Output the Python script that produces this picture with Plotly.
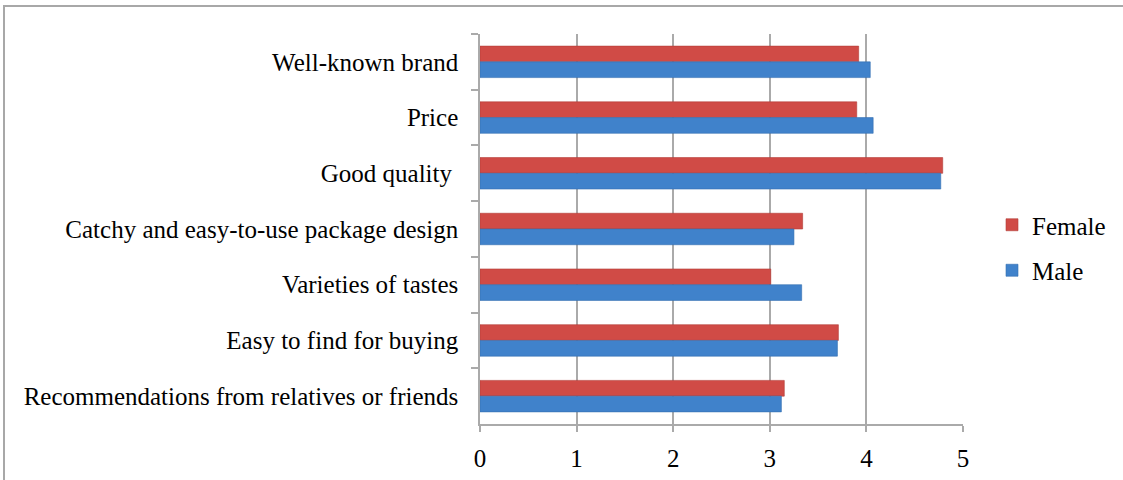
import plotly.graph_objects as go

categories = [
    "Well-known brand",
    "Price",
    "Good quality ",
    "Catchy and easy-to-use package design",
    "Varieties of tastes",
    "Easy to find for buying",
    "Recommendations from relatives or friends",
]
female = [3.92, 3.90, 4.79, 3.34, 3.01, 3.71, 3.15]
male = [4.04, 4.07, 4.77, 3.25, 3.33, 3.70, 3.12]
x_ticks = [0, 1, 2, 3, 4, 5]

FONT = "Liberation Serif, Times New Roman, Times, DejaVu Serif, serif"
FS = 25
W, H = 1123, 480
L, R, T, B = 480, 160, 34, 56
pw, ph = W - L - R, H - T - B

fig = go.Figure()
fig.add_trace(go.Bar(
    y=categories, x=female, name="Female", orientation="h",
    marker=dict(color="#d04b46", line=dict(color="#b23c38", width=0.6)),
    legendgroup="f",
))
fig.add_trace(go.Bar(
    y=categories, x=male, name="Male", orientation="h",
    marker=dict(color="#4082cb", line=dict(color="#346fb0", width=0.6)),
    legendgroup="m",
))

fig.update_layout(
    width=W, height=H,
    margin=dict(l=L, r=R, t=T, b=B, pad=0, autoexpand=False),
    paper_bgcolor="white", plot_bgcolor="white",
    barmode="group", bargap=0.435, bargroupgap=0,
    font=dict(family=FONT, size=FS, color="black"),
    legend=dict(
        xref="container", yref="container",
        x=992 / W, y=1 - 202 / H, xanchor="left", yanchor="top",
        traceorder="grouped", tracegroupgap=10,
        font=dict(family=FONT, size=FS, color="black"),
        itemwidth=30, bgcolor="rgba(0,0,0,0)",
    ),
    xaxis=dict(
        range=[0, 5], tickvals=x_ticks, ticktext=[str(v) for v in x_ticks],
        showgrid=True, gridcolor="#aaaaaa", gridwidth=1.5,
        showline=True, linecolor="#aaaaaa", linewidth=1.5,
        ticks="outside", ticklen=6, tickcolor="#aaaaaa", tickwidth=1.5,
        ticklabelstandoff=5, automargin=False,
        zeroline=False, tickfont=dict(family=FONT, size=FS),
    ),
    yaxis=dict(
        autorange="reversed", showgrid=False,
        showline=True, linecolor="#aaaaaa", linewidth=1.5,
        ticks="outside", tickson="boundaries", ticklen=7,
        tickcolor="#aaaaaa", tickwidth=1.5,
        ticklabelstandoff=15, automargin=False,
        tickfont=dict(family=FONT, size=FS),
    ),
    shapes=[dict(
        type="rect", xref="paper", yref="paper",
        x0=(4 - L) / pw, x1=(W + 20 - L) / pw,
        y0=(H - B - (H + 20)) / ph, y1=1 + (T - 6) / ph,
        line=dict(color="#a8a8a8", width=2), fillcolor="rgba(0,0,0,0)",
        layer="below",
    )],
)

fig.write_html("out.html")
